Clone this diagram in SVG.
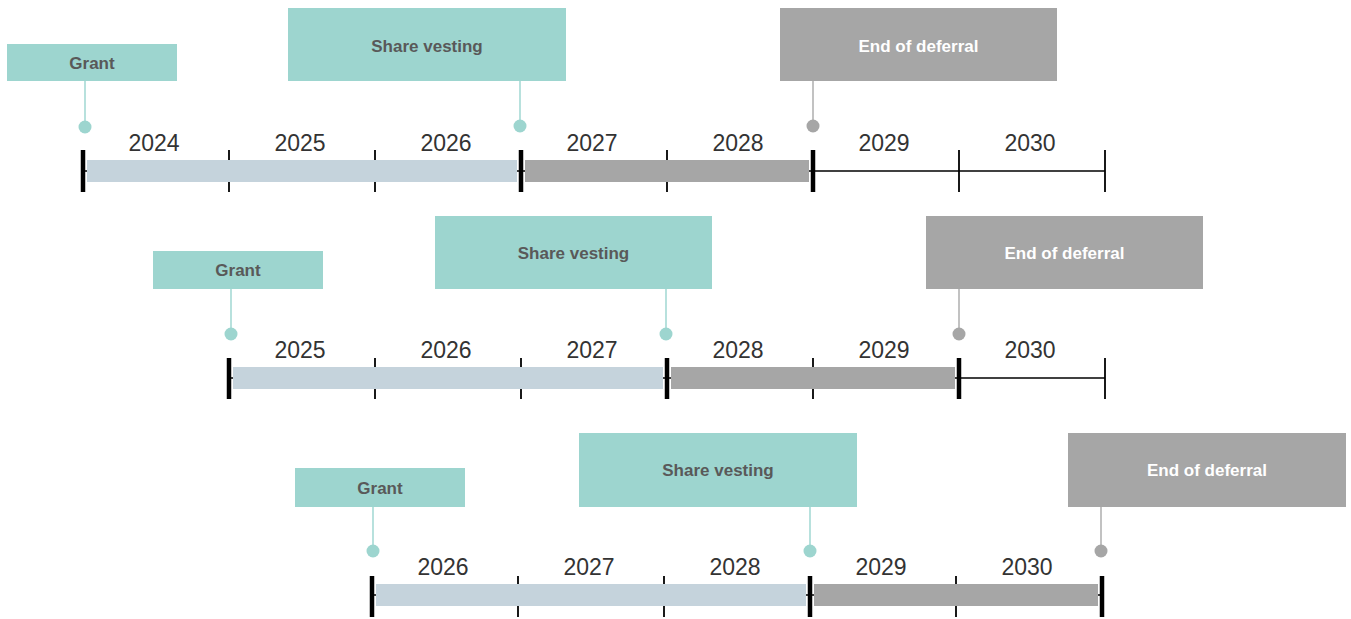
<svg xmlns="http://www.w3.org/2000/svg" width="1351" height="619" viewBox="0 0 1351 619">
<style>
.teal{fill:#9dd5cf}
.grey{fill:#a6a6a6}
.lbl{font-family:"Liberation Sans",Arial,sans-serif;font-weight:bold;font-size:17px;text-anchor:middle}
.dk{fill:#595959}
.wh{fill:#ffffff}
.yr{font-family:"Liberation Sans",Arial,sans-serif;font-size:23px;fill:#333333;text-anchor:middle}
.axis{stroke:#000;stroke-width:1.6;fill:none}
.thin{stroke:#000;stroke-width:1.8}
.thick{stroke:#000;stroke-width:4.5}
.cT{stroke:#a6dad5;stroke-width:1.6}
.cG{stroke:#b3b3b3;stroke-width:1.6}
.dT{fill:#9dd5cf}
.dG{fill:#a6a6a6}
.lb{fill:#c5d3dc}
.gb{fill:#a6a6a6}
</style>
<rect width="1351" height="619" fill="#ffffff"/>

<!-- Row 1 -->
<g id="row1-axis">
<line class="axis" x1="83" y1="171" x2="1105" y2="171"/>
<line class="thin" x1="229" y1="150" x2="229" y2="192"/>
<line class="thin" x1="375" y1="150" x2="375" y2="192"/>
<line class="thin" x1="667" y1="150" x2="667" y2="192"/>
<line class="thin" x1="959" y1="150" x2="959" y2="192"/>
<line class="thin" x1="1105" y1="150" x2="1105" y2="192"/>
<rect class="lb" x="87" y="160" width="430" height="22"/>
<rect class="gb" x="525" y="160" width="284" height="22"/>
<line class="thick" x1="83" y1="150" x2="83" y2="192"/>
<line class="thick" x1="521" y1="150" x2="521" y2="192"/>
<line class="thick" x1="813" y1="150" x2="813" y2="192"/>
<text class="yr" x="154" y="151">2024</text>
<text class="yr" x="300" y="151">2025</text>
<text class="yr" x="446" y="151">2026</text>
<text class="yr" x="592" y="151">2027</text>
<text class="yr" x="738" y="151">2028</text>
<text class="yr" x="884" y="151">2029</text>
<text class="yr" x="1030" y="151">2030</text>
</g>
<g id="connectors">
<line class="cT" x1="85" y1="81" x2="85" y2="127"/>
<line class="cT" x1="520" y1="81" x2="520" y2="126"/>
<line class="cG" x1="813" y1="81" x2="813" y2="126"/>
<line class="cT" x1="231" y1="289" x2="231" y2="334"/>
<line class="cT" x1="666" y1="289" x2="666" y2="334"/>
<line class="cG" x1="959" y1="289" x2="959" y2="334"/>
<line class="cT" x1="373" y1="507" x2="373" y2="551"/>
<line class="cT" x1="810" y1="507" x2="810" y2="551"/>
<line class="cG" x1="1101" y1="507" x2="1101" y2="551"/>
<circle class="dT" cx="85" cy="127" r="6.5"/>
<circle class="dT" cx="520" cy="126" r="6.5"/>
<circle class="dG" cx="813" cy="126" r="6.5"/>
<circle class="dT" cx="231" cy="334" r="6.5"/>
<circle class="dT" cx="666" cy="334" r="6.5"/>
<circle class="dG" cx="959" cy="334" r="6.5"/>
<circle class="dT" cx="373" cy="551" r="6.5"/>
<circle class="dT" cx="810" cy="551" r="6.5"/>
<circle class="dG" cx="1101" cy="551" r="6.5"/>
</g>
<g id="r1-grant"><rect class="teal" x="7" y="44" width="170" height="37"/><text class="lbl dk" x="92" y="69">Grant</text></g>
<g id="r1-vesting"><rect class="teal" x="288" y="8" width="278" height="73"/><text class="lbl dk" x="427" y="52">Share vesting</text></g>
<g id="r1-deferral"><rect class="grey" x="780" y="8" width="277" height="73"/><text class="lbl wh" x="918.5" y="52">End of deferral</text></g>

<!-- Row 2 -->
<g id="row2-axis">
<line class="axis" x1="229" y1="378" x2="1105" y2="378"/>
<line class="thin" x1="375" y1="358" x2="375" y2="399"/>
<line class="thin" x1="521" y1="358" x2="521" y2="399"/>
<line class="thin" x1="813" y1="358" x2="813" y2="399"/>
<line class="thin" x1="1105" y1="358" x2="1105" y2="399"/>
<rect class="lb" x="233" y="367" width="430" height="22"/>
<rect class="gb" x="671" y="367" width="284" height="22"/>
<line class="thick" x1="229" y1="358" x2="229" y2="399"/>
<line class="thick" x1="667" y1="358" x2="667" y2="399"/>
<line class="thick" x1="959" y1="358" x2="959" y2="399"/>
<text class="yr" x="300" y="358">2025</text>
<text class="yr" x="446" y="358">2026</text>
<text class="yr" x="592" y="358">2027</text>
<text class="yr" x="738" y="358">2028</text>
<text class="yr" x="884" y="358">2029</text>
<text class="yr" x="1030" y="358">2030</text>
</g>
<g id="r2-grant"><rect class="teal" x="153" y="251" width="170" height="38"/><text class="lbl dk" x="238" y="276">Grant</text></g>
<g id="r2-vesting"><rect class="teal" x="435" y="216" width="277" height="73"/><text class="lbl dk" x="573.5" y="259">Share vesting</text></g>
<g id="r2-deferral"><rect class="grey" x="926" y="216" width="277" height="73"/><text class="lbl wh" x="1064.5" y="259">End of deferral</text></g>

<!-- Row 3 -->
<g id="row3-axis">
<line class="axis" x1="372" y1="595" x2="1102" y2="595"/>
<line class="thin" x1="518" y1="576" x2="518" y2="617"/>
<line class="thin" x1="664" y1="576" x2="664" y2="617"/>
<line class="thin" x1="956" y1="576" x2="956" y2="617"/>
<rect class="lb" x="376" y="584" width="430" height="22"/>
<rect class="gb" x="814" y="584" width="284" height="22"/>
<line class="thick" x1="372" y1="576" x2="372" y2="617"/>
<line class="thick" x1="810" y1="576" x2="810" y2="617"/>
<line class="thick" x1="1102" y1="576" x2="1102" y2="617"/>
<text class="yr" x="443" y="575">2026</text>
<text class="yr" x="589" y="575">2027</text>
<text class="yr" x="735" y="575">2028</text>
<text class="yr" x="881" y="575">2029</text>
<text class="yr" x="1027" y="575">2030</text>
</g>
<g id="r3-grant"><rect class="teal" x="295" y="468" width="170" height="39"/><text class="lbl dk" x="380" y="494">Grant</text></g>
<g id="r3-vesting"><rect class="teal" x="579" y="433" width="278" height="74"/><text class="lbl dk" x="718" y="476">Share vesting</text></g>
<g id="r3-deferral"><rect class="grey" x="1068" y="433" width="278" height="74"/><text class="lbl wh" x="1207" y="476">End of deferral</text></g>
</svg>
